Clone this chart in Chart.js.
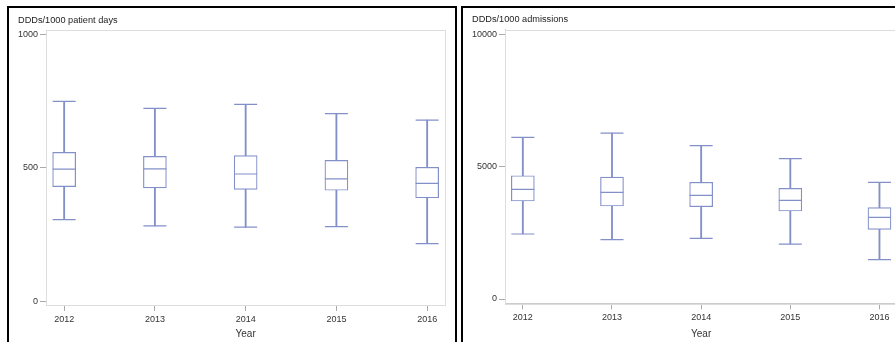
<!DOCTYPE html>
<html>
<head>
<meta charset="utf-8">
<script src="https://cdn.jsdelivr.net/npm/chart.js@4/dist/chart.umd.min.js"></script>
<style>
  html, body { margin: 0; padding: 0; background: #fff; overflow: hidden; width: 895px; height: 342px; }
  .panel { position: absolute; border: 2px solid #000; box-sizing: border-box; }
  #p1 { left: 7px; top: 6px; width: 450px; height: 400px; }
  #p2 { left: 461px; top: 6px; width: 460px; height: 400px; }
  canvas { position: absolute; }
  #c1 { left: 0px; top: 0px; }
  #c2 { left: 0px; top: 0px; }
</style>
</head>
<body>
<div class="panel" id="p1"><canvas id="c1" width="449" height="334"></canvas></div>
<div class="panel" id="p2"><canvas id="c2" width="447" height="334"></canvas></div>
<script>
// ---- data ----
const years = [2012, 2013, 2014, 2015, 2016];

// DDDs/1000 patient days
const pdMin = [306, 283, 278, 280, 216];
const pdQ1  = [430, 425, 419, 416, 388];
const pdMed = [495, 496, 477, 459, 442];
const pdQ3  = [558, 543, 546, 528, 502];
const pdMax = [749, 723, 738, 703, 679];
const pdTicks = [0, 500, 1000];

// DDDs/1000 admissions
const adMin = [2453, 2238, 2289, 2075, 1484];
const adQ1  = [3698, 3509, 3484, 3321, 2629];
const adMed = [4140, 4026, 3912, 3723, 3084];
const adQ3  = [4653, 4604, 4403, 4176, 3447];
const adMax = [6102, 6264, 5786, 5296, 4403];
const adTicks = [0, 5000, 10000];

const titles = ['DDDs/1000 patient days', 'DDDs/1000 admissions'];
const xTitle = 'Year';

// ---- style ----
const BLUE = '#8390c8';
const AXIS = '#cccccc';
const TXT = '#333333';
const FONT = '"Liberation Sans", Arial, sans-serif';
const LW = 1.2;

const framePlugin = {
  id: 'frame',
  beforeDatasetsDraw(chart) {
    const a = chart.chartArea, ctx = chart.ctx;
    ctx.save();
    ctx.strokeStyle = '#dddddd';
    ctx.lineWidth = 1;
    ctx.strokeRect(Math.round(a.left) + 0.5, Math.round(a.top) + 0.5, Math.round(a.right - a.left), Math.round(a.bottom - a.top));
    ctx.restore();
  }
};

function makePanel(id, title, mn, q1, med, q3, mx, yTicks, p) {
  const box = years.map((x, i) => ({ x: x, y: [q1[i], q3[i]] }));
  const whisk = years.map((x, i) => ({ x: x, y: [mn[i], mx[i]] }));
  const caps = years.map((x, i) => ({ x: x, y: mn[i] })).concat(years.map((x, i) => ({ x: x, y: mx[i] })));
  const meds = years.map((x, i) => ({ x: x, y: med[i] }));
  new Chart(document.getElementById(id), {
    type: 'bar',
    data: {
      datasets: [
        { type: 'scatter', data: meds, order: 0, showLine: false, pointStyle: 'line', pointRadius: 11.5, pointBorderWidth: LW, pointBorderColor: BLUE, pointBackgroundColor: BLUE },
        { type: 'scatter', data: caps, order: 0, showLine: false, pointStyle: 'line', pointRadius: 11.5, pointBorderWidth: LW, pointBorderColor: BLUE, pointBackgroundColor: BLUE },
        { type: 'bar', data: box, order: 1, grouped: false, barThickness: 23, backgroundColor: '#ffffff', borderColor: BLUE, borderWidth: LW, borderSkipped: false },
        { type: 'bar', data: whisk, order: 2, grouped: false, barThickness: LW, backgroundColor: BLUE, borderWidth: 0 }
      ]
    },
    options: {
      responsive: false,
      animation: false,
      events: [],
      layout: { padding: { left: p.padL, right: p.padR, top: 0, bottom: 0 } },
      plugins: {
        legend: { display: false },
        tooltip: { enabled: false },
        title: {
          display: true, text: title, align: 'start', color: '#222',
          font: { family: FONT, size: 9.2, weight: 'normal' },
          padding: { top: p.tTop, bottom: p.tBot }
        }
      },
      scales: {
        x: {
          type: 'linear', min: 2011.8, max: 2016.2, offset: false,
          afterBuildTicks: s => { s.ticks = years.map(v => ({ value: v })); },
          afterFit: s => { s.height = p.xH; },
          grid: { offset: false, drawOnChartArea: false, drawTicks: true, tickLength: 6, color: AXIS, tickColor: '#aaaaaa' },
          border: { display: true, color: AXIS, width: 1 },
          ticks: { color: TXT, font: { family: FONT, size: 9 }, padding: 3, maxRotation: 0, autoSkip: false, callback: v => String(v) },
          title: { display: true, text: xTitle, color: TXT, font: { family: FONT, size: 10 }, padding: { top: 0, bottom: 2 } }
        },
        y: {
          type: 'linear', min: p.yMin, max: p.yMax,
          afterBuildTicks: s => { s.ticks = yTicks.map(v => ({ value: v })); },
          afterFit: s => { s.width = p.yW; },
          grid: { drawOnChartArea: false, drawTicks: true, tickLength: 6, color: AXIS, tickColor: '#aaaaaa' },
          border: { display: true, color: AXIS, width: 1 },
          ticks: { color: TXT, font: { family: FONT, size: 9 }, padding: 2, callback: v => String(v) }
        }
      }
    },
    plugins: [framePlugin]
  });
}

makePanel('c1', titles[0], pdMin, pdQ1, pdMed, pdQ3, pdMax, pdTicks,
  { padL: 9, padR: 0, tTop: 6.5, tBot: 4.5, xH: 37, yW: 28, yMin: -13.5, yMax: 1016 });
makePanel('c2', titles[1], adMin, adQ1, adMed, adQ3, adMax, adTicks,
  { padL: 9, padR: 0, tTop: 5.5, tBot: 5, xH: 38.7, yW: 33, yMin: -162, yMax: 10170 });
</script>
</body>
</html>
